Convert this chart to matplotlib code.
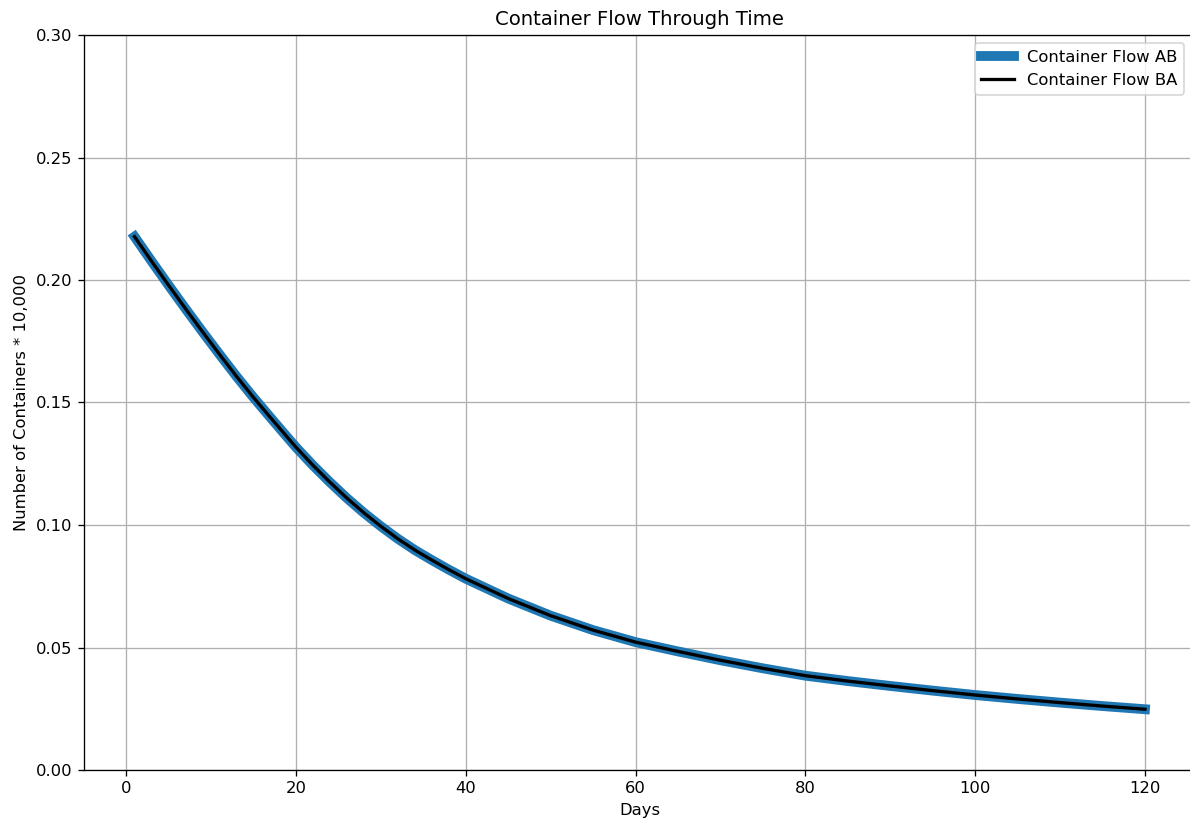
import matplotlib
matplotlib.use("Agg")
import matplotlib.pyplot as plt

# days and flow values (same curve for both directions)
days = [1, 3, 5, 7, 9, 11, 13, 15, 17, 19, 20, 22, 24, 26, 28, 30, 32, 34,
        36, 38, 40, 45, 50, 55, 60, 65, 70, 75, 80, 85, 90, 95, 100, 105,
        110, 115, 120]
flow_ab = [0.2177, 0.2077, 0.1979, 0.1883, 0.1789, 0.1697, 0.1607, 0.1521,
           0.1439, 0.1358, 0.1318, 0.1244, 0.1175, 0.1110, 0.1050, 0.0995,
           0.0944, 0.0898, 0.0857, 0.0818, 0.0781, 0.0700, 0.0630, 0.0571,
           0.0522, 0.0484, 0.0448, 0.0415, 0.0385, 0.0363, 0.0343, 0.0324,
           0.0306, 0.0290, 0.0275, 0.0261, 0.0248]
flow_ba = list(flow_ab)

dpi = 118
fig = plt.figure(figsize=(1190 / dpi, 823 / dpi), dpi=dpi)
ax = fig.add_axes([84 / 1190, 53 / 823, (1195.5 - 84) / 1190, 735 / 823])

ax.plot(days, flow_ab, color="#1f77b4", linewidth=6, label="Container Flow AB")
ax.plot(days, flow_ba, color="black", linewidth=2, label="Container Flow BA")

ax.set_ylim(0, 0.30)
ax.set_title("Container Flow Through Time")
ax.set_xlabel("Days")
ax.set_ylabel("Number of Containers * 10,000")
ax.grid(True)
ax.legend(loc="upper right", bbox_to_anchor=(0.997, 1.0))

fig.savefig("out.png", dpi=dpi)
